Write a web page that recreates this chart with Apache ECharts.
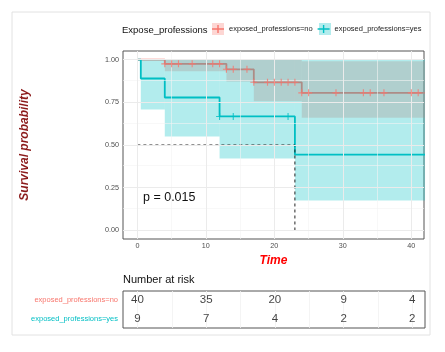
<!DOCTYPE html>
<html><head><meta charset="utf-8">
<script src="https://cdn.jsdelivr.net/npm/echarts@6/dist/echarts.min.js"></script>
<style>html,body{margin:0;padding:0;background:#fff}#c{width:445px;height:352px}</style>
</head><body><div id="c"></div>
<script>
const groupNames = ['exposed_professions=no', 'exposed_professions=yes'];
const legendTitle = 'Expose_professions';
const yTitle = 'Survival probability';
const xTitle = 'Time';
const riskTitle = 'Number at risk';
const pValueText = 'p = 0.015';

// Kaplan-Meier step curves (event times, survival after the step)
const noTimes = [0, 4, 13, 17, 24, 42];
const noSurv = [1, 0.975, 0.943, 0.867, 0.805, 0.805];
const yesTimes = [0, 0.5, 4, 12, 23, 42];
const yesSurv = [1, 0.889, 0.778, 0.667, 0.444, 0.444];

// censoring marks
const noCensorTimes = [4, 5, 6, 8, 11, 12, 13, 14, 16, 17, 19, 20, 21, 22, 23, 24, 25, 29, 33, 34, 36, 40, 41];
const noCensorSurv = [0.975, 0.975, 0.975, 0.975, 0.975, 0.975, 0.943, 0.943, 0.943, 0.867, 0.867, 0.867, 0.867, 0.867, 0.867, 0.805, 0.805, 0.805, 0.805, 0.805, 0.805, 0.805, 0.805];
const yesCensorTimes = [12, 14, 22];
const yesCensorSurv = [0.667, 0.667, 0.667];

// confidence bands
const noBandStart = [4, 13, 17, 24];
const noBandEnd = [13, 17, 24, 42];
const noBandLower = [0.932, 0.871, 0.756, 0.659];
const noBandUpper = [1, 1, 1, 0.99];
const yesBandStart = [0.5, 4, 12, 23];
const yesBandEnd = [4, 12, 23, 42];
const yesBandLower = [0.708, 0.55, 0.421, 0.175];
const yesBandUpper = [1, 1, 1, 1];

// median survival (yes group)
const medianTime = 23;
const medianLevel = 0.5;

// number at risk
const riskTimes = [0, 10, 20, 30, 40];
const riskNo = [40, 35, 20, 9, 4];
const riskYes = [9, 7, 4, 2, 2];

// ticks
const xMajor = [0, 10, 20, 30, 40];
const xMinor = [5, 15, 25, 35];
const yMajor = [0, 0.25, 0.5, 0.75, 1];
const yMinor = [0.125, 0.375, 0.625, 0.875];

const RED = '#F8766D', CYAN = '#00BFC4';
const RED_BAND = 'rgba(248,118,109,0.3)', CYAN_BAND = 'rgba(0,191,196,0.3)';
const FONT = '"Liberation Sans", Arial, sans-serif';
const X_MIN = -2.1, X_MAX = 41.85;

const zip = (a, b) => a.map((v, i) => [v, b[i]]);
const bandData = (s, e, lo, hi) => s.map((v, i) => [v, e[i], lo[i], hi[i]]);
function bandRender(color) {
  return function (params, api) {
    const p0 = api.coord([api.value(0), api.value(3)]);
    const p1 = api.coord([api.value(1), api.value(2)]);
    return { type: 'rect', shape: { x: p0[0], y: p0[1], width: p1[0] - p0[0], height: p1[1] - p0[1] }, style: { fill: color } };
  };
}
const plusPath = 'path://M4.2,0L5.8,0L5.8,4.2L10,4.2L10,5.8L5.8,5.8L5.8,10L4.2,10L4.2,5.8L0,5.8L0,4.2L4.2,4.2Z';
const legendIcon = 'path://M0,5.3L12,5.3L12,6.7L0,6.7Z M5.3,2L6.7,2L6.7,10L5.3,10Z';

const chart = echarts.init(document.getElementById('c'), null, { renderer: 'canvas' });
chart.setOption({
  animation: false,
  textStyle: { fontFamily: FONT },
  title: [{ text: riskTitle, left: 123, top: 274, padding: 0, textStyle: { fontSize: 11, fontWeight: 'normal', color: '#111', fontFamily: FONT } }],
  legend: {
    data: groupNames, left: 212, top: 25, padding: 0, itemWidth: 12, itemHeight: 8, itemGap: 5,
    icon: legendIcon, textStyle: { fontSize: 7.5, color: '#222' }
  },
  graphic: [
    { type: 'rect', shape: { x: 12, y: 12, width: 418, height: 323 }, style: { fill: 'none', stroke: '#E2E2E2', lineWidth: 1 }, z: -10, silent: true },
    { type: 'text', x: 122, y: 25, style: { text: legendTitle, fontSize: 9.5, fill: '#111', fontFamily: FONT }, silent: true },
    { type: 'rect', shape: { x: 212, y: 23, width: 12, height: 12 }, style: { fill: RED_BAND }, z: -1, silent: true },
    { type: 'rect', shape: { x: 319, y: 23, width: 12, height: 12 }, style: { fill: CYAN_BAND }, z: -1, silent: true },
    { type: 'text', x: 143, y: 191, style: { text: pValueText, fontSize: 12.5, fill: '#111', fontFamily: FONT }, z: 10, silent: true }
  ],
  grid: [
    { left: 123, top: 51, width: 301, height: 188, show: true, borderColor: '#555', borderWidth: 1, backgroundColor: '#fff' },
    { left: 123, top: 291, width: 302, height: 37, show: true, borderColor: '#555', borderWidth: 1, backgroundColor: '#fff' }
  ],
  xAxis: [
    { type: 'value', gridIndex: 0, min: X_MIN, max: X_MAX, name: xTitle, nameLocation: 'middle', nameGap: 13,
      nameTextStyle: { color: '#FF0000', fontSize: 12, fontWeight: 'bold', fontStyle: 'italic', fontFamily: FONT },
      axisLine: { show: false }, splitLine: { show: false },
      axisTick: { show: true, length: 3, customValues: xMajor, lineStyle: { color: '#333' } },
      axisLabel: { customValues: xMajor, fontSize: 7.2, color: '#4D4D4D', margin: 4 } },
    { type: 'value', gridIndex: 1, min: X_MIN, max: X_MAX, axisLine: { show: false }, axisTick: { show: false }, axisLabel: { show: false }, splitLine: { show: false } }
  ],
  yAxis: [
    { type: 'value', gridIndex: 0, min: -0.05, max: 1.05, name: yTitle, nameLocation: 'middle', nameGap: 92, nameRotate: 90,
      nameTextStyle: { color: '#8B1A1A', fontSize: 12, fontWeight: 'bold', fontStyle: 'italic', fontFamily: FONT },
      axisLine: { show: false }, splitLine: { show: false },
      axisTick: { show: true, length: 3, customValues: yMajor, lineStyle: { color: '#333' } },
      axisLabel: { customValues: yMajor, formatter: v => v.toFixed(2), fontSize: 7.2, color: '#4D4D4D', margin: 4 } },
    { type: 'category', gridIndex: 1, data: groupNames, inverse: true, axisLine: { show: false }, axisTick: { show: false }, splitLine: { show: false },
      axisLabel: { fontSize: 7.5, margin: 5, color: v => (v === groupNames[0] ? RED : CYAN) } }
  ],
  series: [
    { type: 'line', name: 'grid', xAxisIndex: 0, yAxisIndex: 0, data: [], z: 0, silent: true,
      markLine: { silent: true, symbol: ['none', 'none'], label: { show: false }, animation: false,
        data: [
          ...xMinor.map(v => ({ xAxis: v, lineStyle: { color: '#F3F3F3', width: 0.6, type: 'solid' } })),
          ...yMinor.map(v => ({ yAxis: v, lineStyle: { color: '#F3F3F3', width: 0.6, type: 'solid' } })),
          ...xMajor.map(v => ({ xAxis: v, lineStyle: { color: '#EBEBEB', width: 1, type: 'solid' } })),
          ...yMajor.map(v => ({ yAxis: v, lineStyle: { color: '#EBEBEB', width: 1, type: 'solid' } }))
        ] } },
    { type: 'line', name: 'gridRisk', xAxisIndex: 1, yAxisIndex: 1, data: [], z: 0, silent: true,
      markLine: { silent: true, symbol: ['none', 'none'], label: { show: false }, animation: false,
        data: [...xMinor, ...xMajor].map(v => ({ xAxis: v, lineStyle: { color: '#F1F1F1', width: 0.8, type: 'solid' } })) } },
    { type: 'line', name: groupNames[0], xAxisIndex: 0, yAxisIndex: 0, step: 'end', data: zip(noTimes, noSurv),
      showSymbol: false, symbol: 'none', color: RED, lineStyle: { color: RED, width: 1.8 }, z: 1 },
    { type: 'line', name: groupNames[1], xAxisIndex: 0, yAxisIndex: 0, step: 'end', data: zip(yesTimes, yesSurv),
      showSymbol: false, symbol: 'none', color: CYAN, lineStyle: { color: CYAN, width: 1.8 }, z: 1 },
    { type: 'custom', name: 'bandNo', xAxisIndex: 0, yAxisIndex: 0, renderItem: bandRender(RED_BAND), data: bandData(noBandStart, noBandEnd, noBandLower, noBandUpper), z: 2, silent: true, encode: { x: [0, 1], y: [2, 3] } },
    { type: 'custom', name: 'bandYes', xAxisIndex: 0, yAxisIndex: 0, renderItem: bandRender(CYAN_BAND), data: bandData(yesBandStart, yesBandEnd, yesBandLower, yesBandUpper), z: 3, silent: true, encode: { x: [0, 1], y: [2, 3] } },
    { type: 'line', name: 'median', xAxisIndex: 0, yAxisIndex: 0, data: [[0, medianLevel], [medianTime, medianLevel], [medianTime, 0]],
      showSymbol: false, symbol: 'none', lineStyle: { color: '#222', width: 1, type: [3, 3] }, z: 4, silent: true },
    { type: 'scatter', name: 'censorNo', xAxisIndex: 0, yAxisIndex: 0, data: zip(noCensorTimes, noCensorSurv), symbol: plusPath, symbolSize: 7,
      itemStyle: { color: RED }, z: 5, silent: true },
    { type: 'scatter', name: 'censorYes', xAxisIndex: 0, yAxisIndex: 0, data: zip(yesCensorTimes, yesCensorSurv), symbol: plusPath, symbolSize: 7,
      itemStyle: { color: CYAN }, z: 5, silent: true },
    { type: 'scatter', name: 'riskNo', xAxisIndex: 1, yAxisIndex: 1, data: riskTimes.map((t, i) => [t, groupNames[0], riskNo[i]]),
      symbolSize: 1, itemStyle: { color: 'rgba(0,0,0,0)' }, silent: true, z: 5,
      label: { show: true, position: 'inside', formatter: p => String(p.value[2]), fontSize: 11.5, color: '#111', fontFamily: FONT } },
    { type: 'scatter', name: 'riskYes', xAxisIndex: 1, yAxisIndex: 1, data: riskTimes.map((t, i) => [t, groupNames[1], riskYes[i]]),
      symbolSize: 1, itemStyle: { color: 'rgba(0,0,0,0)' }, silent: true, z: 5,
      label: { show: true, position: 'inside', formatter: p => String(p.value[2]), fontSize: 11.5, color: '#111', fontFamily: FONT } }
  ]
});
</script></body></html>
